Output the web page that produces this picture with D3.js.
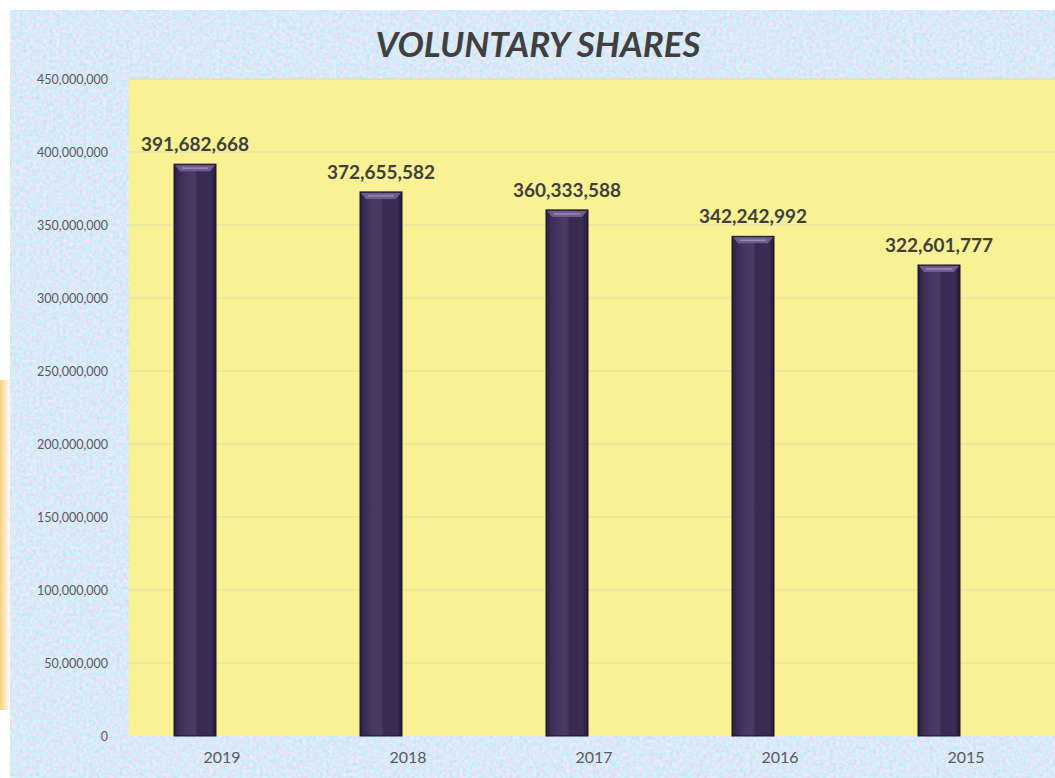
<!doctype html>
<html lang="en">
<head>
<meta charset="utf-8">
<title>Voluntary Shares</title>
<script src="https://d3js.org/d3.v7.min.js"></script>
<style>
html, body, svg { margin: 0; padding: 0; border: 0; }
body { background: #fff; }
</style>
</head>
<body>
<svg id="chart"></svg>
<script>
var years = ["2019", "2018", "2017", "2016", "2015"];
var shares = [391682668, 372655582, 360333588, 342242992, 322601777];
var yTicks = [0, 50000000, 100000000, 150000000, 200000000, 250000000, 300000000, 350000000, 400000000, 450000000];

var W = 1055, H = 778;
var svg = d3.select("#chart").attr("width", W).attr("height", H);
var defs = svg.append("defs");

// speckled paper texture for the outer area
var f = defs.append("filter").attr("id", "paper").attr("x", 0).attr("y", 0).attr("width", 1).attr("height", 1);
f.append("feTurbulence").attr("type", "fractalNoise").attr("baseFrequency", 0.3).attr("numOctaves", 3).attr("seed", 7).attr("result", "n");
f.append("feColorMatrix").attr("in", "n").attr("type", "matrix")
  .attr("values", "0.8 0 0 0 0.3  -0.3 0.3 0 0 0.82  0 0.15 0 0 0.86  0 0 0 0 1");

var bg = defs.append("linearGradient").attr("id", "leftglow").attr("x1", 0).attr("x2", 1);
bg.append("stop").attr("offset", 0).attr("stop-color", "#f6c85e").attr("stop-opacity", 0.8);
bg.append("stop").attr("offset", 1).attr("stop-color", "#f6c85e").attr("stop-opacity", 0.05);

var g1 = defs.append("linearGradient").attr("id", "bar").attr("x1", 0).attr("x2", 1);
[["0", "#2a1e3c"], ["0.12", "#3b2b55"], ["0.3", "#47375f"], ["0.5", "#4a3a64"], ["0.56", "#3a2a52"], ["0.88", "#3b2b55"], ["1", "#22182f"]]
  .forEach(function(s) { g1.append("stop").attr("offset", s[0]).attr("stop-color", s[1]); });

svg.append("rect").attr("x", 0).attr("y", 380).attr("width", 10).attr("height", 330).attr("fill", "url(#leftglow)");
svg.append("rect").attr("x", 10).attr("y", 10).attr("width", W - 10).attr("height", H - 10)
  .attr("fill", "#c9d6ec").attr("filter", "url(#paper)");

var plot = { left: 129, right: 1059, top: 79, bottom: 736 };

var x = d3.scaleBand().domain(years).range([plot.left, plot.right]);
var y = d3.scaleLinear().domain([0, 450000000]).range([plot.bottom, plot.top]);

svg.append("rect").attr("x", plot.left).attr("y", plot.top)
  .attr("width", plot.right - plot.left).attr("height", plot.bottom - plot.top)
  .attr("fill", "#f8f294");

svg.append("g").selectAll("line").data(yTicks.slice(1)).enter().append("line")
  .attr("x1", plot.left).attr("x2", plot.right)
  .attr("y1", function(d) { return y(d); }).attr("y2", function(d) { return y(d); })
  .attr("stroke", "#e2dcb0").attr("stroke-width", 1);

var yAxis = svg.append("g").attr("transform", "translate(" + (plot.left - 18) + ",0)")
  .call(d3.axisLeft(y).tickValues(yTicks).tickSize(0).tickFormat(d3.format(",")));
yAxis.select(".domain").remove();
yAxis.selectAll("text").attr("fill", "#595959").style("font-family", "Lato, 'Open Sans', sans-serif").style("font-size", "12.5px");

var xAxis = svg.append("g").attr("transform", "translate(0," + plot.bottom + ")")
  .call(d3.axisBottom(x).tickSize(0).tickPadding(16));
xAxis.select(".domain").remove();
xAxis.selectAll("text").attr("fill", "#595959").style("font-family", "Lato, 'Open Sans', sans-serif").style("font-size", "16px");

var barW = 42, barOff = 45;
var bars = svg.append("g").selectAll("g").data(years).enter().append("g");
bars.append("rect")
  .attr("x", function(d) { return x(d) + barOff; })
  .attr("y", function(d, i) { return y(shares[i]); })
  .attr("width", barW)
  .attr("height", function(d, i) { return plot.bottom - y(shares[i]); })
  .attr("fill", "url(#bar)").attr("stroke", "#1e1428").attr("stroke-width", 1);
// bevel on top
bars.append("path")
  .attr("d", function(d, i) {
    var x0 = x(d) + barOff, y0 = y(shares[i]);
    return "M" + (x0 + 1) + "," + (y0 + 1) + "H" + (x0 + barW - 1) + "L" + (x0 + barW - 6) + "," + (y0 + 7) + "H" + (x0 + 6) + "Z";
  })
  .attr("fill", "#6e5c8c");
bars.append("line")
  .attr("x1", function(d) { return x(d) + barOff + 8; })
  .attr("x2", function(d) { return x(d) + barOff + barW - 8; })
  .attr("y1", function(d, i) { return y(shares[i]) + 4; })
  .attr("y2", function(d, i) { return y(shares[i]) + 4; })
  .attr("stroke", "#9a8ab3").attr("stroke-width", 1.5);

bars.append("text")
  .attr("x", function(d) { return x(d) + barOff + barW / 2; })
  .attr("y", function(d, i) { return y(shares[i]) - 13; })
  .attr("text-anchor", "middle")
  .attr("fill", "#404040")
  .style("font-family", "Lato, 'Open Sans', sans-serif").style("font-weight", "bold").style("font-size", "19px")
  .text(function(d, i) { return d3.format(",")(shares[i]); });

svg.append("text").attr("x", 538).attr("y", 57).attr("text-anchor", "middle")
  .attr("fill", "#404040")
  .style("font-family", "Lato, 'Open Sans', sans-serif").style("font-weight", "bold").style("font-style", "italic").style("font-size", "35px")
  .text("VOLUNTARY SHARES");
</script>
</body>
</html>
